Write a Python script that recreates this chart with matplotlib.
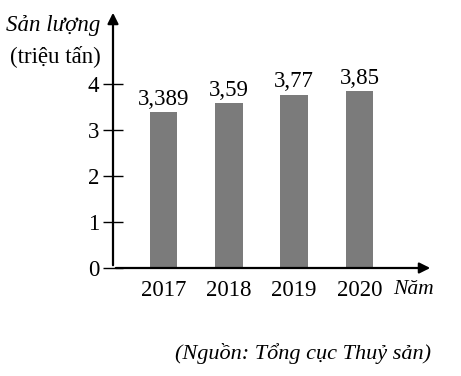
import matplotlib.pyplot as plt

years = ['2017', '2018', '2019', '2020']
values = [3.389, 3.59, 3.77, 3.85]
yticks = [0, 1, 2, 3, 4]

plt.rcParams['font.family'] = ['Liberation Serif', 'DejaVu Serif']

fig = plt.figure(figsize=(4.61, 3.76), dpi=100)
# axes origin at (113, 268) px, arrow tips at y=10 and x=433
ax = fig.add_axes([113 / 461, (376 - 268) / 376, (433 - 113) / 461, (268 - 10) / 376])
ax.set_ylim(0, (268 - 10) / 46)
ax.set_xlim((113 - 163.5) / 65.3, (433 - 163.5) / 65.3)

x = range(len(years))
bars = ax.bar(x, values, width=0.42, color='#7b7b7b')
for xi, v in zip(x, values):
    ax.text(xi, v + 0.05, f'{v:g}'.replace('.', ','), ha='center', va='bottom', fontsize=16.5)

for s in ax.spines.values():
    s.set_visible(False)
ax.set_yticks(yticks)
ax.set_yticklabels([str(t) for t in yticks], fontsize=16.5)
ax.tick_params(axis='y', direction='inout', length=14, width=1, pad=3)
ax.set_xticks(list(x))
ax.set_xticklabels(years, fontsize=16.5)
ax.tick_params(axis='x', length=0, pad=9)

# axis arrows
ax.annotate('', xy=(0, 1), xytext=(0, 0), xycoords='axes fraction',
            arrowprops=dict(arrowstyle='-|>', lw=1.6, color='black', mutation_scale=16))
ax.annotate('', xy=(1, 0), xytext=(0, 0), xycoords='axes fraction',
            arrowprops=dict(arrowstyle='-|>', lw=1.6, color='black', mutation_scale=16))

fig.text(6 / 461, 1 - 26 / 376, 'Sản lượng', ha='left', va='center', fontsize=16.5, style='italic')
fig.text(101 / 461, 1 - 56 / 376, '(triệu tấn)', ha='right', va='center', fontsize=16.5)
fig.text(393 / 461, 1 - 289 / 376, 'Năm', ha='left', va='center', fontsize=15.5, style='italic')
fig.text(431 / 461, 1 - 354 / 376, '(Nguồn: Tổng cục Thuỷ sản)', ha='right', va='center',
         fontsize=16, style='italic')

fig.savefig('out.png', dpi=100)
